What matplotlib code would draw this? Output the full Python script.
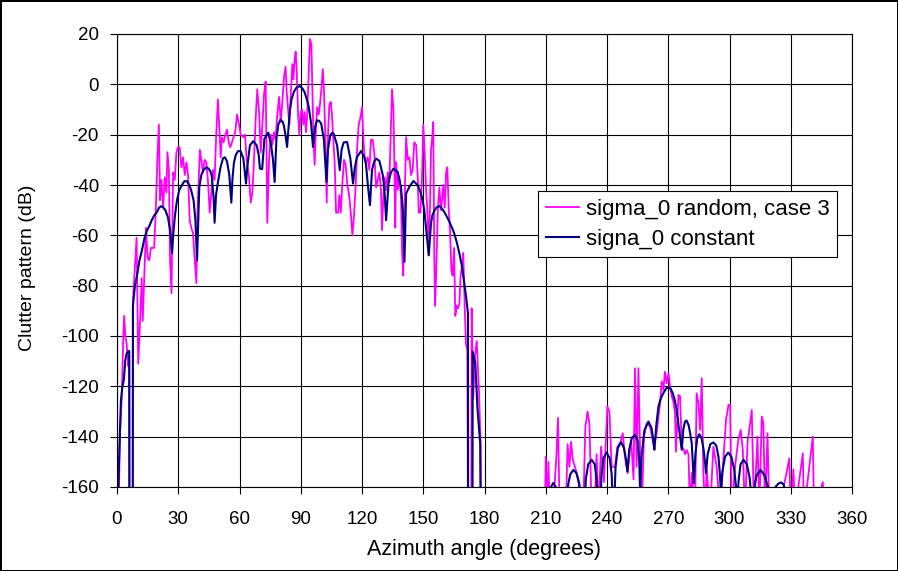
import matplotlib
matplotlib.use("Agg")
import matplotlib.pyplot as plt

plt.rcParams['font.family'] = ['Liberation Sans', 'DejaVu Sans']
plt.rcParams['axes.unicode_minus'] = False

# (azimuth deg, dB); -175/-200 = below the axis floor
rand_main = [
    (0.0, -200), (0.6, -175), (1.5, -138), (2.3, -125), (3.1, -100), (3.5, -92),
    (4.1, -100), (4.7, -103), (5.5, -112), (6.0, -108), (6.1, -200), (7.7, -200),
    (7.8, -86), (8.8, -72), (9.6, -61), (10.4, -111), (11.2, -96), (12.1, -77),
    (12.6, -94), (13.4, -75), (14.2, -57), (15.0, -69), (15.8, -70), (16.6, -65),
    (18.2, -65), (19.0, -50), (19.8, -29), (20.5, -16), (21.1, -46), (21.8, -38),
    (22.6, -49), (23.4, -37), (24.2, -43), (24.7, -27), (25.4, -34), (26.0, -70),
    (26.7, -83), (27.5, -35), (28.3, -38), (29.1, -27), (29.9, -25), (30.7, -25),
    (31.5, -33), (32.3, -29), (33.2, -36), (34.0, -31), (34.8, -36), (35.6, -54),
    (36.4, -57), (37.2, -59), (38.1, -70), (38.9, -79), (39.4, -51), (40.0, -38),
    (40.6, -26), (41.3, -30), (42.1, -35), (42.9, -30), (43.8, -31), (44.6, -39),
    (45.4, -51), (46.2, -43), (47.0, -34), (47.8, -38), (48.6, -20), (49.4, -6),
    (50.1, -17), (50.8, -29), (51.4, -21), (52.2, -23), (53.1, -20), (53.9, -18),
    (54.7, -23), (55.5, -25), (56.3, -23), (57.1, -21), (57.9, -19), (58.8, -12),
    (59.8, -16), (60.6, -20), (61.9, -21), (62.7, -20), (63.5, -30), (64.7, -37),
    (65.5, -47), (66.3, -43), (67.1, -30), (67.9, -14), (68.7, -2), (69.6, -11),
    (70.4, -27), (71.2, -16), (72.0, -4), (72.8, 1), (73.3, -30), (73.6, -55),
    (74.5, -30), (75.3, -20), (76.1, -24), (76.9, -19), (77.7, -22), (78.5, -12),
    (79.4, -5), (80.2, -15), (81.0, -7), (81.8, 3), (82.6, 7), (83.1, -3),
    (83.8, -10), (84.4, -16), (85.1, -4), (85.9, 8), (86.4, 2), (87.0, 10),
    (87.5, 13), (88.0, 6), (88.7, -12), (89.3, -20), (90.0, -11), (90.6, -10),
    (91.3, -16), (91.9, -11), (92.6, -19), (93.2, -11), (94.1, 9), (94.5, 18),
    (95.2, 16), (95.7, -3), (96.2, -20), (96.8, -32), (97.5, -16), (98.1, -9),
    (98.8, -12), (99.4, -8), (100.1, -2), (100.8, 6), (101.4, -3), (102.1, -23),
    (102.7, -47), (103.4, -19), (104.0, -8), (104.7, -7), (105.3, -12), (106.0, -23),
    (106.6, -31), (107.3, -51), (108.3, -51), (108.9, -44), (109.6, -51), (110.4, -39),
    (111.2, -30), (112.0, -32), (112.8, -40), (113.7, -44), (114.5, -51), (115.3, -60),
    (116.1, -52), (116.9, -40), (117.7, -24), (118.4, -16), (119.3, -13), (120.0, -9),
    (120.7, -22), (121.3, -29), (122.0, -31), (122.8, -29), (123.6, -34), (124.4, -22),
    (125.2, -22), (126.0, -27), (126.9, -41), (127.7, -38), (128.5, -35), (129.3, -42),
    (129.8, -58), (130.4, -46), (131.1, -37), (131.8, -42), (132.6, -35), (133.4, -39),
    (134.2, -16), (134.7, -2), (135.4, -10), (135.8, -29), (136.3, -57), (136.7, -31),
    (137.5, -42), (138.3, -37), (139.1, -45), (139.6, -66), (140.2, -76), (140.9, -45),
    (141.6, -21), (142.4, -30), (143.2, -29), (144.0, -36), (144.8, -34), (145.6, -23),
    (146.5, -24), (147.3, -37), (147.8, -51), (148.6, -51), (149.4, -37), (150.0, -16),
    (150.7, -27), (151.4, -42), (152.2, -53), (152.7, -68), (153.3, -49), (153.8, -26),
    (154.5, -20), (154.9, -15), (155.4, -68), (155.8, -88), (156.3, -76), (157.1, -51),
    (157.9, -41), (158.7, -50), (159.2, -46), (159.8, -40), (160.5, -49), (161.2, -35),
    (161.8, -33), (162.5, -50), (163.1, -58), (163.8, -74), (164.4, -76), (165.1, -65),
    (165.7, -92), (166.4, -88), (167.0, -89), (167.7, -87), (168.3, -76), (169.0, -72),
    (169.6, -67), (170.3, -88), (170.9, -103), (171.6, -106), (172.0, -200), (173.5, -200),
    (173.7, -89), (174.5, -125), (175.3, -108), (176.2, -102), (177.3, -122), (178.1, -143),
    (178.5, -200),
]

rand_back = [
    (209.0, -200), (209.6, -170), (210.0, -148), (210.5, -170), (211.3, -150), (212.0, -170),
    (213.5, -170), (215.2, -148), (216.0, -132.5), (216.8, -170), (219.8, -170), (220.7, -143),
    (221.6, -152), (222.4, -142), (223.2, -149), (224.3, -152), (226.0, -157), (227.1, -170),
    (228.5, -165), (229.4, -136), (230.5, -130), (231.4, -135), (232.5, -170), (234.3, -160),
    (234.9, -147), (235.8, -170), (237.1, -144), (238.5, -158), (240.2, -128), (241.2, -130),
    (242.3, -152), (243.9, -152), (245.1, -144), (246.7, -142), (247.7, -138.6), (248.8, -148),
    (250.1, -154.5), (251.8, -141), (253.0, -157), (253.7, -112.8), (254.5, -152), (255.4, -112.8),
    (256.2, -146.6), (257.0, -170), (258.1, -140), (259.4, -134.7), (261.1, -136), (263.0, -144),
    (264.3, -138.6), (266.0, -126.7), (266.8, -118), (267.6, -121.4), (268.4, -114.2), (269.2, -118.8),
    (270.1, -114.8), (270.9, -120), (271.7, -124), (272.5, -126), (273.3, -130.7), (273.8, -146),
    (275.0, -123.4), (275.8, -124), (276.6, -144), (277.4, -144.6), (278.2, -147), (279.0, -145.3),
    (279.9, -147), (280.7, -170), (281.5, -154.5), (283.1, -170), (283.9, -122.8), (284.8, -126.7),
    (285.6, -137.3), (286.4, -116.8), (287.2, -154.5), (288.0, -170), (288.8, -153), (290.5, -170),
    (292.1, -144), (293.7, -152), (295.4, -170), (297.0, -149), (298.3, -133.3), (299.5, -127.4),
    (300.3, -127.4), (301.1, -170), (302.7, -152), (304.3, -141.3), (305.5, -137.3), (306.5, -145.3),
    (307.6, -170), (308.8, -142.6), (310.1, -134.7), (310.9, -129.4), (312.0, -170), (313.7, -140),
    (314.6, -170), (315.8, -132), (316.6, -134.7), (317.4, -170), (318.6, -138.6), (319.5, -170),
    (322.8, -170), (323.5, -165), (324.0, -170), (328.4, -152.5), (329.3, -148.6), (330.0, -170),
    (331.3, -153), (332.1, -170), (335.9, -146.6), (336.5, -170), (340.8, -140), (341.4, -170),
    (345.7, -158), (346.0, -170), (347.0, -200), (360.0, -200),
]

const_main = [
    (0.0, -200), (0.5, -165), (1.0, -150), (1.9, -126), (2.5, -121), (3.4, -117),
    (4.0, -110), (4.7, -107), (5.5, -106), (6.0, -106), (6.1, -200), (7.7, -200),
    (7.8, -88), (8.8, -80), (9.8, -76), (11.0, -70), (12.2, -66), (13.5, -61),
    (14.7, -58), (16.0, -56), (17.0, -54), (18.3, -52), (19.6, -50.7), (20.6, -49),
    (21.7, -48.4), (22.7, -49), (23.7, -50), (25.0, -53), (26.0, -58), (27.0, -67),
    (27.5, -60), (28.4, -52), (29.4, -46), (30.5, -42), (31.8, -40), (33.0, -38.5),
    (34.3, -38.5), (35.4, -40), (36.3, -42), (37.5, -46), (38.4, -54), (39.2, -70),
    (40.3, -41), (41.3, -36), (42.4, -34), (43.7, -33), (44.9, -33.5), (46.0, -35),
    (46.5, -37), (47.3, -45), (47.8, -55), (48.5, -44), (49.5, -38.6), (50.7, -33),
    (51.9, -29.4), (52.9, -29), (53.9, -30.7), (55.0, -36), (56.0, -47), (56.6, -37),
    (57.3, -31), (58.2, -28), (59.3, -26.5), (60.6, -26.6), (61.9, -29.5), (62.6, -35),
    (63.2, -39.4), (63.8, -33), (65.1, -24.2), (66.7, -22.6), (68.4, -24.2), (69.4, -28),
    (70.0, -33.5), (71.1, -33.7), (72.2, -21.6), (74.1, -19.2), (75.5, -24.2), (76.4, -30),
    (77.2, -38.8), (78.1, -21.6), (79.0, -16), (80.1, -14), (81.2, -15), (81.7, -16.3),
    (82.5, -20), (83.3, -24.9), (84.6, -11), (85.5, -6), (86.6, -3), (88.0, -1.2),
    (89.5, -0.7), (90.7, -1.5), (91.8, -3), (93.0, -6), (93.9, -9), (95.0, -15),
    (96.0, -24.9), (97.0, -17), (98.0, -14.3), (99.0, -14.5), (100.0, -15.6), (101.3, -21.6),
    (102.6, -38.8), (103.3, -26), (104.5, -20.2), (105.3, -19.3), (106.1, -19.6), (107.8, -24.2),
    (109.1, -34.1), (110.0, -26), (111.0, -23.1), (112.7, -22.9), (114.3, -29.5), (115.6, -39.4),
    (116.5, -33), (117.5, -29), (119.5, -26.5), (121.1, -28.8), (122.0, -32), (122.8, -39.4),
    (123.9, -48), (124.9, -34.1), (125.8, -31), (126.9, -29.5), (128.5, -30.4), (130.2, -36.1),
    (131.0, -42), (131.8, -54), (133.1, -38.1), (134.2, -35), (135.4, -33.5), (137.5, -34.8),
    (139.1, -40.7), (140.0, -50), (140.8, -70.5), (141.6, -43.4), (143.2, -40.7), (145.2, -38.4),
    (147.3, -40.1), (148.5, -42.5), (149.7, -46), (150.5, -50), (151.3, -56.6), (152.7, -67.9),
    (153.8, -55.2), (154.5, -52), (155.4, -50.3), (156.6, -48.8), (157.9, -48.4), (159.0, -49.2),
    (160.3, -50.7), (161.5, -52.5), (162.8, -54.6), (164.0, -56.8), (165.2, -59.3), (166.5, -63),
    (167.7, -67.2), (169.0, -72.5), (170.1, -79.1), (171.0, -84.5), (171.9, -91), (172.0, -200),
    (174.1, -200), (174.2, -106.2), (175.5, -110.8), (176.6, -129.4), (177.9, -142.6), (178.3, -200),
]

const_back = [
    (209.0, -200), (211.0, -170), (211.8, -161), (213.7, -158.4), (215.6, -161), (216.4, -170),
    (218.4, -190), (220.4, -170), (221.0, -159), (222.0, -155), (223.5, -153.2), (225.0, -154.5),
    (226.5, -159), (227.2, -170), (228.2, -190), (229.0, -170), (229.6, -157), (230.8, -151),
    (232.5, -149.2), (234.0, -151), (234.9, -157), (235.5, -170), (236.1, -190), (236.7, -170),
    (237.3, -155), (238.3, -148.5), (239.8, -146.3), (241.3, -148.5), (242.3, -155), (242.9, -170),
    (243.2, -185), (243.6, -165), (244.2, -152), (245.3, -144.5), (246.9, -142.2), (248.3, -144.5),
    (249.3, -149), (250.0, -153.8), (250.9, -145), (252.2, -140.5), (253.7, -139.3), (255.0, -141.5),
    (255.8, -150), (256.2, -162), (256.9, -148), (258.3, -137.5), (260.3, -134), (261.8, -136.5),
    (262.6, -141), (263.2, -145.2), (264.2, -135), (265.2, -128), (266.5, -124.5), (267.6, -122.7),
    (269.0, -120.8), (270.1, -120.4), (271.2, -121), (272.2, -122.7), (273.2, -125.5), (274.1, -129.4),
    (275.0, -135), (275.8, -140), (276.6, -145.2), (277.4, -137), (278.2, -134), (279.0, -133.6),
    (280.0, -135.5), (280.8, -139), (281.5, -142.6), (282.0, -150), (282.5, -158.5), (283.3, -147),
    (284.2, -140.5), (285.2, -139), (286.3, -140.5), (287.3, -145), (288.0, -150), (288.5, -154.5),
    (289.3, -147), (290.6, -143), (292.1, -142.3), (293.5, -143.5), (294.6, -148), (295.3, -155),
    (295.8, -162), (296.5, -154), (297.8, -148), (299.4, -146.3), (300.9, -148), (302.3, -153),
    (303.2, -160), (303.6, -170), (304.4, -158), (305.4, -151), (306.9, -149.2), (308.5, -151),
    (309.8, -156), (310.5, -162), (311.0, -180), (311.8, -162), (313.2, -155.5), (315.2, -153.2),
    (317.2, -155.5), (318.8, -160), (319.5, -170), (320.3, -190), (321.2, -170), (322.5, -160),
    (324.0, -158.6), (325.3, -158.2), (326.5, -159), (327.5, -162), (328.5, -175), (330.0, -200),
    (360.0, -200),
]

x_ticks = list(range(0, 361, 30))
y_ticks = list(range(-160, 21, 20))

rand_x, rand_y = zip(*(rand_main + rand_back))
const_x, const_y = zip(*(const_main + const_back))

fig = plt.figure(figsize=(8.98, 5.71), dpi=100, edgecolor='black', linewidth=2)
ax = fig.add_axes([117 / 898, 1 - 487 / 571, 735 / 898, 453 / 571])

ax.plot(rand_x, rand_y, color='#FF00FF', lw=1.3, label='sigma_0 random, case 3')
ax.plot(const_x, const_y, color='#000080', lw=1.5, label='signa_0 constant')

ax.set_xlim(0, 360)
ax.set_ylim(-160, 20)
ax.set_xticks(x_ticks)
ax.set_yticks(y_ticks)
ax.grid(True, color='black', lw=0.8)
ax.set_axisbelow(True)
for s in ax.spines.values():
    s.set_color('black')
    s.set_linewidth(0.8)
ax.tick_params(direction='out', length=5, width=0.8, labelsize=13.5, pad=8)
ax.tick_params(axis='x', pad=12)

fig.text(28 / 898, 1 - 268 / 571, 'Clutter pattern (dB)', rotation=90,
         ha='center', va='center', fontsize=14)
fig.text(484 / 898, 1 - 550 / 571, 'Azimuth angle (degrees)',
         ha='center', va='center', fontsize=15.5)

leg = ax.legend(loc='upper left', bbox_to_anchor=((538 - 117) / 735, (487 - 191) / 453),
                borderaxespad=0, fontsize=16, handlelength=1.5, handletextpad=0.3,
                labelspacing=0.4, borderpad=0.35, fancybox=False, framealpha=1,
                edgecolor='black')
leg.get_frame().set_linewidth(0.8)

fig.savefig('out.png', dpi=100)
